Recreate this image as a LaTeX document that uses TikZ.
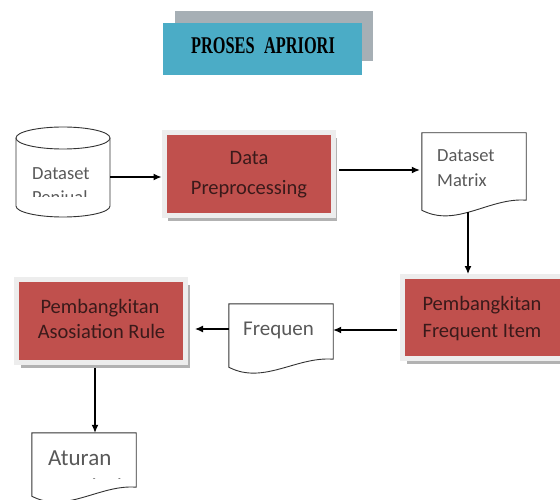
\documentclass[tikz,border=0pt]{standalone}
\usepackage{graphicx}
\usepackage{fontspec}
\setmainfont{Carlito}
\newfontfamily\titlefont{Liberation Serif}
\usetikzlibrary{arrows.meta,calc,shadows}
\definecolor{redbox}{HTML}{C0504D}
\definecolor{bluebox}{HTML}{4BACC6}
\definecolor{graybox}{HTML}{A6AFB5}
\definecolor{boxedge}{HTML}{EDEDED}
\definecolor{doctxt}{HTML}{595959}
\definecolor{proctxt}{HTML}{3A1A1A}
\newcommand\drawdoc[2]{\draw[docline] (#1.south west) -- (#1.north west) -- (#1.north east) -- ([yshift=#2pt]#1.south east) .. controls ($(#1.south west)!0.65!(#1.south east)+(0,-#2-3)$) and ($(#1.south west)!0.33!(#1.south east)+(0,18)$) .. (#1.south west) -- cycle;}
\tikzset{
  arr/.style={draw=black, line width=1.2pt, -{Latex[length=8pt,width=7pt]}},
  procbox/.style={fill=redbox, draw=boxedge, line width=5pt, inner sep=0pt,
    drop shadow={shadow xshift=4pt, shadow yshift=-5pt, fill=gray!60, opacity=1}},
  doctext/.style={font=\fontsize{18.5}{25}\selectfont, text=doctxt, inner sep=0pt, anchor=base west},
  proctext/.style={font=\fontsize{20.5}{24}\selectfont, text=proctxt, inner sep=0pt, anchor=base},
  docline/.style={draw=black!80, line width=0.9pt, fill=white},
  placeholder/.style={draw=none, inner sep=0pt}
}
\begin{document}
\begin{tikzpicture}[x=1pt,y=-1pt]
\useasboundingbox[fill=white] (0,0) rectangle (560,500);

% title
\fill[graybox] (175,11) rectangle (373,61);
\node[fill=bluebox, minimum width=199, minimum height=52, inner sep=0pt, anchor=north west] (titlebox) at (163,23) {};
\node[font=\titlefont\bfseries\fontsize{24}{25}\selectfont, inner sep=0pt] (titletext) at (263,46) {\scalebox{0.68}[1]{PROSES\hspace{14pt}APRIORI}};

% cylinder
\node[placeholder, minimum width=94, minimum height=90] (cyl) at (63,172) {};
\fill[white] (16,138) -- (16,206) arc[start angle=180,end angle=360,x radius=47pt,y radius=11pt] -- (110,138) -- cycle;
\draw[draw=black!80, line width=0.9pt] (16,138) -- (16,206) arc[start angle=180,end angle=360,x radius=47pt,y radius=11pt] -- (110,138);
\draw[docline] (63,138) ellipse [x radius=47pt, y radius=11pt];
\begin{scope}
\clip (16,150) rectangle (110,197);
\node[doctext] (cyltexta) at (32,179) {Dataset};
\node[doctext] (cyltextb) at (32,204) {Penjual};
\end{scope}

% process boxes
\node[procbox, minimum width=169, minimum height=83] (prep) at (248.5,174.5) {};
\node[proctext] (prepa) at (249,165) {Data};
\node[proctext] (prepb) at (249,194) {Preprocessing};

\node[procbox, minimum width=170, minimum height=82] (freq) at (487.5,317.5) {};
\node[proctext] (freqa) at (482,310) {Pembangkitan};
\node[proctext] (freqb) at (482,337) {Frequent Item};

\node[procbox, minimum width=169, minimum height=83] (asos) at (101,321) {};
\node[proctext] (asosa) at (100,313) {Pembangkitan};
\node[proctext] (asosb) at (101.5,338) {Asosiation Rule};

% documents
\node[placeholder, minimum width=104, minimum height=77] (matrix) at (474,171.5) {};
\drawdoc{matrix}{10}
\node[doctext] (matrixa) at (437,162) {Dataset};
\node[doctext] (matrixb) at (437,187) {Matrix};

\node[placeholder, minimum width=104, minimum height=63] (frequen) at (281,335.5) {};
\drawdoc{frequen}{8}
\node[doctext, font=\fontsize{21}{26}\selectfont] (frequena) at (243,335) {Frequen};

\node[placeholder, minimum width=104, minimum height=63] (aturan) at (84,464.5) {};
\drawdoc{aturan}{9}
\begin{scope}
\clip (32,440) rectangle (136,478);
\node[doctext, font=\fontsize{23}{27}\selectfont] (aturana) at (48,465) {Aturan};
\node[doctext, font=\fontsize{23}{27}\selectfont] (aturanb) at (48,494) {Asosiasi};
\end{scope}

% connectors
\draw[arr] ([yshift=-5pt]cyl.east) -- ([yshift=-5pt]cyl.east -| prep.west);
\draw[arr, shorten >=2pt] ([yshift=4.5pt,xshift=3.5pt]prep.east) -- ([yshift=4.5pt]prep.east -| matrix.west);
\draw[arr] ([xshift=-6pt,yshift=-2pt]matrix.south) -- ([xshift=-6pt]matrix.south |- freq.north);
\draw[arr] ([yshift=-12.5pt,xshift=-3pt]freq.west) -- ([yshift=-12.5pt]freq.west -| frequen.east);
\draw[arr, shorten >=7pt] ([yshift=6.5pt]frequen.west) -- ([yshift=6.5pt]frequen.west -| asos.east);
\draw[arr] ([xshift=-6pt,yshift=-3pt]asos.south) -- ([xshift=-6pt]asos.south |- aturan.north);
\end{tikzpicture}
\end{document}
